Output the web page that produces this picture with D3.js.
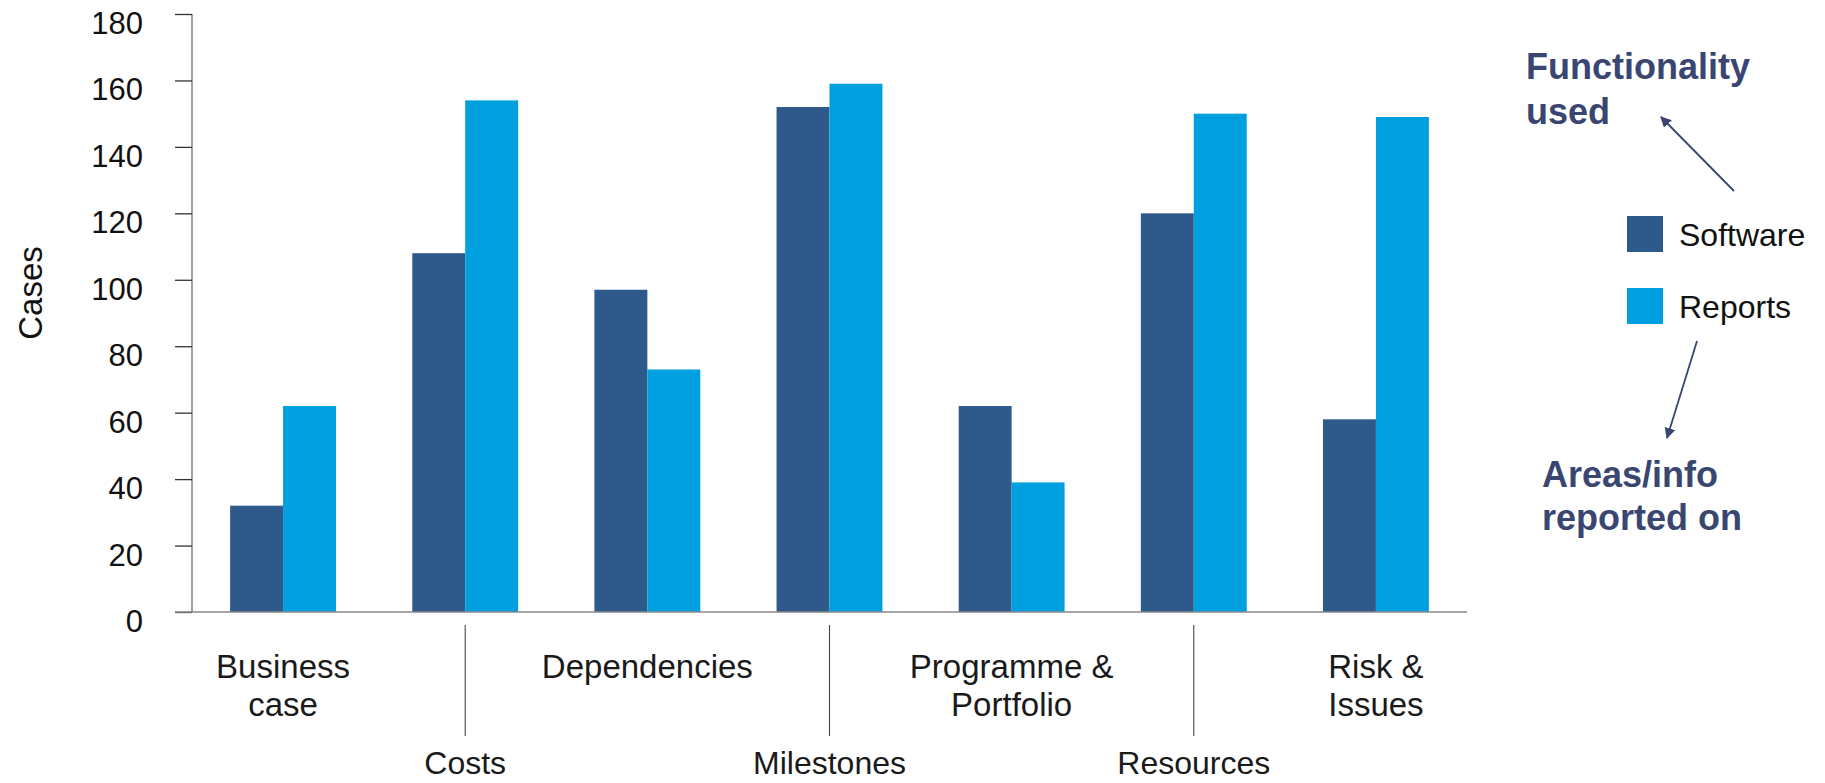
<!DOCTYPE html>
<html>
<head>
<meta charset="utf-8">
<script src="https://cdn.jsdelivr.net/npm/d3@7/dist/d3.min.js"></script>
<style>
  html, body { margin: 0; padding: 0; background: #ffffff; }
  svg { display: block; }
  text { font-family: "Liberation Sans", Arial, Helvetica, sans-serif; }
</style>
</head>
<body>
<svg id="chart" width="1825" height="783"></svg>
<script>
// Cases per area: functionality used in software vs. areas covered in reports
const categories = ["Business case", "Costs", "Dependencies", "Milestones",
                    "Programme & Portfolio", "Resources", "Risk & Issues"];
const seriesNames = ["Software", "Reports"];
const softwareValues = [32, 108, 97, 152, 62, 120, 58];
const reportsValues  = [62, 154, 73, 159, 39, 150, 149];
const yTicks = [0, 20, 40, 60, 80, 100, 120, 140, 160, 180];

// category labels: first line / second line, and whether the label sits on the lower row
const labelLines = [["Business", "case"], ["Costs"], ["Dependencies"], ["Milestones"],
                    ["Programme &", "Portfolio"], ["Resources"], ["Risk &", "Issues"]];
const lowerRow = [false, true, false, true, false, true, false];

const colors = { Software: "#2d5a8a", Reports: "#009fdf" };
const noteColor = "#3a4672";

const svg = d3.select("#chart");

const plot = { left: 192, right: 1467, top: 14, bottom: 612 };

const x0 = d3.scaleBand()
  .domain(categories)
  .range([plot.left, plot.right])
  .paddingInner(0)
  .paddingOuter(0);

const x1 = d3.scaleBand()
  .domain(seriesNames)
  .range([0, x0.bandwidth()])
  .paddingInner(0)
  .paddingOuter(0.72);

const y = d3.scaleLinear()
  .domain([0, 180])
  .range([plot.bottom, plot.top]);

const rows = categories.map((c, i) => ({
  category: c,
  values: [
    { series: "Software", value: softwareValues[i] },
    { series: "Reports", value: reportsValues[i] }
  ]
}));

// bars
const groups = svg.append("g").attr("class", "bars")
  .selectAll("g")
  .data(rows)
  .join("g")
  .attr("transform", d => `translate(${x0(d.category)},0)`);

groups.selectAll("rect")
  .data(d => d.values)
  .join("rect")
  .attr("x", d => x1(d.series))
  .attr("y", d => y(d.value))
  .attr("width", x1.bandwidth())
  .attr("height", d => y(0) - y(d.value))
  .attr("fill", d => colors[d.series]);

// y axis
const yAxis = d3.axisLeft(y)
  .tickValues(yTicks)
  .tickSize(17)
  .tickPadding(32)
  .tickFormat(d3.format("d"));

const yAxisG = svg.append("g")
  .attr("transform", `translate(${plot.left},0)`)
  .call(yAxis);

yAxisG.select(".domain")
  .attr("d", `M0,${plot.top}V${plot.bottom}`)
  .attr("stroke", "#8a8a8a")
  .attr("stroke-width", 1.6);
yAxisG.selectAll(".tick line")
  .attr("stroke", "#333")
  .attr("stroke-width", 1.3);
yAxisG.selectAll(".tick text")
  .attr("fill", "#111")
  .attr("font-size", 31)
  .attr("dy", "0.63em");

// x baseline
svg.append("line")
  .attr("x1", plot.left - 17)
  .attr("x2", plot.right)
  .attr("y1", y(0))
  .attr("y2", y(0))
  .attr("stroke", "#8a8a8a")
  .attr("stroke-width", 1.6);

// y axis title
svg.append("text")
  .attr("transform", "translate(42,293) rotate(-90)")
  .attr("text-anchor", "middle")
  .attr("font-size", 33)
  .attr("fill", "#111")
  .text("Cases");

// category labels, staggered on two rows
const labelG = svg.append("g").attr("class", "category-labels");
categories.forEach((c, i) => {
  const cx = x0(c) + x0.bandwidth() / 2;
  const lines = labelLines[i];
  if (lowerRow[i]) {
    labelG.append("line")
      .attr("x1", cx).attr("x2", cx)
      .attr("y1", 625).attr("y2", 736)
      .attr("stroke", "#444")
      .attr("stroke-width", 1.1);
    labelG.append("text")
      .attr("x", cx).attr("y", 774)
      .attr("text-anchor", "middle")
      .attr("font-size", 32)
      .attr("fill", "#1a1a1a")
      .text(lines[0]);
  } else {
    lines.forEach((ln, k) => {
      labelG.append("text")
        .attr("x", cx).attr("y", 678 + k * 38)
        .attr("text-anchor", "middle")
        .attr("font-size", 33)
        .attr("fill", "#1a1a1a")
        .text(ln);
    });
  }
});

// legend
const legend = svg.append("g").attr("class", "legend");
seriesNames.forEach((s, i) => {
  const ly = 216 + i * 72;
  legend.append("rect")
    .attr("x", 1627).attr("y", ly)
    .attr("width", 36).attr("height", 36)
    .attr("fill", colors[s]);
  legend.append("text")
    .attr("x", 1679).attr("y", ly + 30)
    .attr("font-size", 32)
    .attr("fill", "#111")
    .text(s);
});

// annotations with arrows
const defs = svg.append("defs");
defs.append("marker")
  .attr("id", "arrowhead")
  .attr("viewBox", "0 0 10 10")
  .attr("refX", 9).attr("refY", 5)
  .attr("markerWidth", 11).attr("markerHeight", 11)
  .attr("markerUnits", "userSpaceOnUse")
  .attr("orient", "auto")
  .append("path")
  .attr("d", "M0,0L10,5L0,10Z")
  .attr("fill", noteColor);

const notes = svg.append("g").attr("class", "notes");
[["Functionality", "used"]].forEach(lines => {
  lines.forEach((ln, k) => {
    notes.append("text")
      .attr("x", 1526).attr("y", 79 + k * 45)
      .attr("font-size", 36)
      .attr("font-weight", "bold")
      .attr("fill", noteColor)
      .text(ln);
  });
});
[["Areas/info", "reported on"]].forEach(lines => {
  lines.forEach((ln, k) => {
    notes.append("text")
      .attr("x", 1542).attr("y", 487 + k * 43)
      .attr("font-size", 36)
      .attr("font-weight", "bold")
      .attr("fill", noteColor)
      .text(ln);
  });
});

notes.append("line")
  .attr("x1", 1734).attr("y1", 191)
  .attr("x2", 1661).attr("y2", 117)
  .attr("stroke", noteColor)
  .attr("stroke-width", 1.8)
  .attr("marker-end", "url(#arrowhead)");

notes.append("line")
  .attr("x1", 1697).attr("y1", 341)
  .attr("x2", 1667).attr("y2", 438)
  .attr("stroke", noteColor)
  .attr("stroke-width", 1.8)
  .attr("marker-end", "url(#arrowhead)");
</script>
</body>
</html>
